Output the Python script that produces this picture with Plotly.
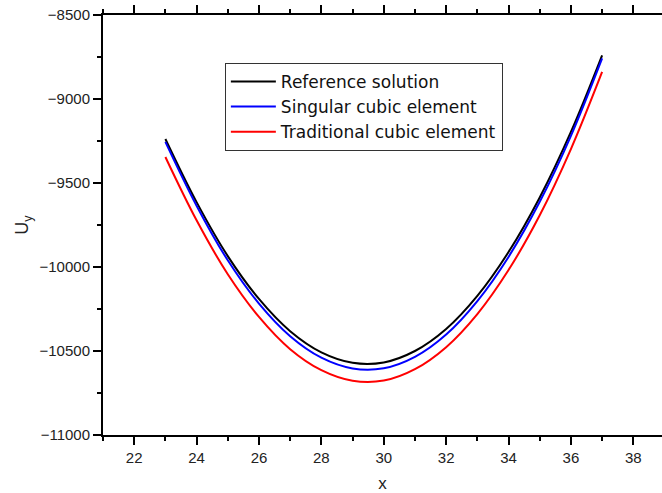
import plotly.graph_objects as go

x_vals = [23, 24, 25, 26, 27, 28, 29, 30, 31, 32, 33, 34, 35, 36, 37]
ref_solution = [-9238, -9614, -9935, -10190, -10382, -10508, -10570, -10568,
                -10500, -10369, -10172, -9911, -9586, -9196, -8740]
singular_cubic = [-9255, -9635, -9960, -10218, -10412, -10540, -10604, -10603,
                  -10535, -10402, -10203, -9940, -9612, -9219, -8758]
traditional_cubic = [-9345, -9722, -10043, -10297, -10489, -10614, -10677, -10676,
                     -10608, -10477, -10280, -10018, -9692, -9298, -8839]

series_names = ["Reference solution", "Singular cubic element", "Traditional cubic element"]
series_colors = ["#000000", "#0000ff", "#ff0000"]

fig = go.Figure()
for name, ys, col in zip(series_names, [ref_solution, singular_cubic, traditional_cubic], series_colors):
    fig.add_trace(go.Scatter(x=x_vals, y=ys, mode="lines", name=name,
                             line=dict(color=col, width=2, shape="spline")))

font_family = "Liberation Sans, Arial, sans-serif"

fig.update_layout(
    width=662, height=493,
    margin=dict(l=103, r=0, t=15, b=58, autoexpand=False),
    paper_bgcolor="white", plot_bgcolor="white",
    font=dict(family=font_family, color="#222", size=15),
    showlegend=True,
    legend=dict(x=0.218, y=0.886, xanchor="left", yanchor="top",
                bordercolor="#333", borderwidth=1, bgcolor="white",
                font=dict(size=17, color="#111", family="DejaVu Sans, sans-serif"),
                itemwidth=45, tracegroupgap=0),
)

fig.update_xaxes(
    range=[21, 38.92], dtick=2, tick0=22,
    showline=True, linecolor="black", linewidth=2, mirror="ticks",
    ticks="outside", ticklen=8, tickwidth=2, tickcolor="black",
    minor=dict(dtick=1, tick0=21, ticks="outside", ticklen=4, tickwidth=2, tickcolor="black"),
    showgrid=False, zeroline=False,
    title=dict(text="x", font=dict(size=17, color="#222"), standoff=12),
    tickfont=dict(size=15),
)
fig.update_yaxes(
    range=[-11000, -8500], dtick=500, tick0=-11000,
    showline=True, linecolor="black", linewidth=2, mirror=False,
    ticks="outside", ticklen=8, tickwidth=2, tickcolor="black",
    minor=dict(dtick=250, ticks="outside", ticklen=4, tickwidth=2, tickcolor="black"),
    showgrid=False, zeroline=False,
    title=dict(text="U<sub>y</sub>", font=dict(size=18, color="#222"), standoff=6),
    tickfont=dict(size=15),
    tickformat="d",
)

fig.write_html("out.html")
